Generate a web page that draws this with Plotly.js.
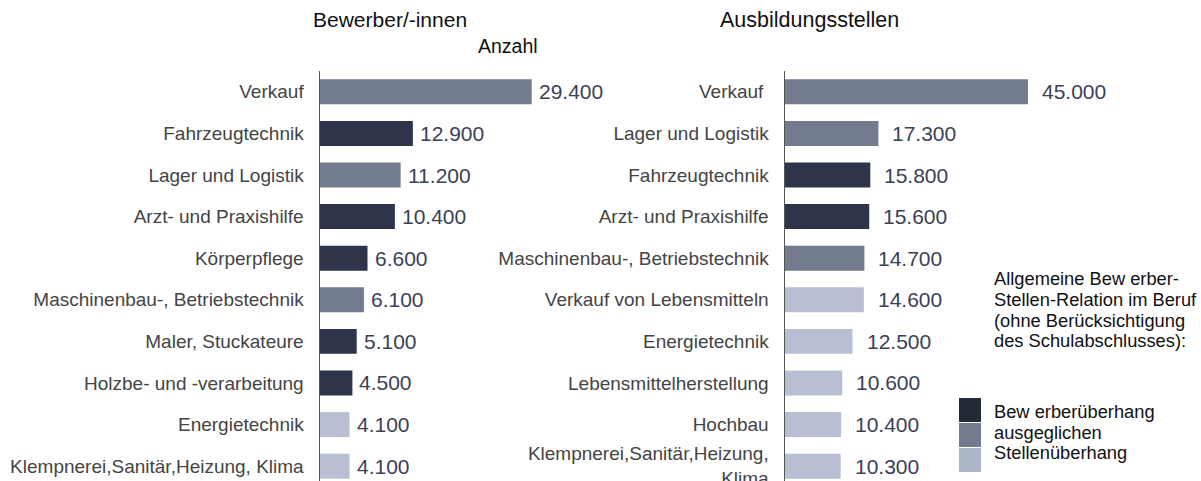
<!DOCTYPE html>
<html>
<head>
<meta charset="utf-8">
<script src="https://cdn.plot.ly/plotly-3.0.1.min.js"></script>
<style>html,body{margin:0;padding:0;background:#fff;}#chart{width:1201px;height:481px;}</style>
</head>
<body>
<div id="chart"></div>
<script>
// ---- data ----
const leftTitle = "Bewerber/-innen";
const rightTitle = "Ausbildungsstellen";
const unitLabel = "Anzahl";

const leftCategories = ["Verkauf", "Fahrzeugtechnik", "Lager und Logistik", "Arzt- und Praxishilfe",
  "Körperpflege", "Maschinenbau-, Betriebstechnik", "Maler, Stuckateure", "Holzbe- und -verarbeitung",
  "Energietechnik", "Klempnerei,Sanitär,Heizung, Klima"];
const leftValues = [29400, 12900, 11200, 10400, 6600, 6100, 5100, 4500, 4100, 4100];
const leftStatus = ["ausgeglichen", "bew", "ausgeglichen", "bew", "bew", "ausgeglichen", "bew", "bew", "stellen", "stellen"];

const rightCategories = ["Verkauf\u00a0", "Lager und Logistik", "Fahrzeugtechnik", "Arzt- und Praxishilfe",
  "Maschinenbau-, Betriebstechnik", "Verkauf von Lebensmitteln", "Energietechnik", "Lebensmittelherstellung",
  "Hochbau", "Klempnerei,Sanitär,Heizung,<br>Klima"];
const rightValues = [45000, 17300, 15800, 15600, 14700, 14600, 12500, 10600, 10400, 10300];
const rightStatus = ["ausgeglichen", "ausgeglichen", "bew", "bew", "ausgeglichen", "stellen", "stellen", "stellen", "stellen", "stellen"];

const legendHeading = ["Allgemeine Bew erber-", "Stellen-Relation im Beruf", "(ohne Berücksichtigung", "des Schulabschlusses):"];
const legendKeys = ["bew", "ausgeglichen", "stellen"];
const legendLabels = ["Bew erberüberhang", "ausgeglichen", "Stellenüberhang"];

// ---- styles ----
const barColors = {bew: "#2e354a", ausgeglichen: "#737b8e", stellen: "#b8bfd2"};
const swatchColors = {bew: "#222a37", ausgeglichen: "#737b8e", stellen: "#adb6c9"};
const FONT = "Liberation Sans, Arial, sans-serif";
const W = 1201, H = 481, MT = 71, MB = 0;
const plotH = H - MT - MB;
const px2x = x => x / W;
const px2y = y => (H - MB - y) / plotH;

function fmt(v) {
  return String(Math.round(v)).replace(/\B(?=(\d{3})+(?!\d))/g, ".");
}

const traces = [
  {type: "bar", orientation: "h", y: leftCategories, x: leftValues, xaxis: "x", yaxis: "y",
   marker: {color: leftStatus.map(s => barColors[s])}, hoverinfo: "skip"},
  {type: "bar", orientation: "h", y: rightCategories, x: rightValues, xaxis: "x2", yaxis: "y2",
   marker: {color: rightStatus.map(s => barColors[s])}, hoverinfo: "skip"}
];

const annotations = [];
leftCategories.forEach((c, i) => annotations.push({
  xref: "x", yref: "y", x: leftValues[i], y: c, text: fmt(leftValues[i]), showarrow: false,
  xanchor: "left", yanchor: "middle", xshift: 5, font: {family: FONT, size: 21, color: "#3a4156"}
}));
rightCategories.forEach((c, i) => annotations.push({
  xref: "x2", yref: "y2", x: rightValues[i], y: c, text: fmt(rightValues[i]), showarrow: false,
  xanchor: "left", yanchor: "middle", xshift: 12, font: {family: FONT, size: 21, color: "#3a4156"}
}));
annotations.push({xref: "paper", yref: "paper", x: px2x(390), y: px2y(20), text: leftTitle, showarrow: false,
  xanchor: "center", yanchor: "middle", font: {family: FONT, size: 21, color: "#111"}});
annotations.push({xref: "paper", yref: "paper", x: px2x(508), y: px2y(46), text: unitLabel, showarrow: false,
  xanchor: "center", yanchor: "middle", font: {family: FONT, size: 19.5, color: "#111"}});
annotations.push({xref: "paper", yref: "paper", x: px2x(809), y: px2y(20), text: rightTitle, showarrow: false,
  xanchor: "center", yanchor: "middle", font: {family: FONT, size: 21.5, color: "#111"}});
const headY = [278, 299, 320, 340];
legendHeading.forEach((t, i) => annotations.push({xref: "paper", yref: "paper", x: px2x(992), y: px2y(headY[i]),
  text: t, showarrow: false, xanchor: "left", yanchor: "middle", font: {family: FONT, size: 18.3, color: "#111"}}));
const itemY = [411, 432, 452];
const swTop = [398, 423, 448];
const shapes = [];
legendKeys.forEach((k, i) => {
  annotations.push({xref: "paper", yref: "paper", x: px2x(992), y: px2y(itemY[i]), text: legendLabels[i],
    showarrow: false, xanchor: "left", yanchor: "middle", font: {family: FONT, size: 18.3, color: "#111"}});
  shapes.push({type: "rect", xref: "paper", yref: "paper", x0: px2x(959), x1: px2x(981),
    y0: px2y(swTop[i]), y1: px2y(swTop[i] + 24), fillcolor: swatchColors[k], line: {width: 0}});
});

const yCommon = {type: "category", autorange: false, range: [9.356, -0.5], showgrid: false, zeroline: false,
  showline: true, linecolor: "#555", linewidth: 1.5, ticks: "outside", ticklen: 11, tickcolor: "rgba(0,0,0,0)",
  tickfont: {family: FONT, size: 19, color: "#444"}, fixedrange: true};
const xCommon = {visible: false, showgrid: false, zeroline: false, fixedrange: true};

const layout = {
  width: W, height: H, margin: {l: 0, r: 0, t: MT, b: MB, pad: 0},
  paper_bgcolor: "#fff", plot_bgcolor: "rgba(0,0,0,0)", showlegend: false, bargap: 0.4,
  xaxis: Object.assign({}, xCommon, {domain: [320 / W, 600 / W], range: [0, 280 / 7.2 * 1000], anchor: "y"}),
  yaxis: Object.assign({}, yCommon, {anchor: "x"}),
  xaxis2: Object.assign({}, xCommon, {domain: [785 / W, 1], range: [0, 416 / 5.4 * 1000], anchor: "y2"}),
  yaxis2: Object.assign({}, yCommon, {anchor: "x2"}),
  annotations: annotations, shapes: shapes
};

Plotly.newPlot("chart", traces, layout, {displayModeBar: false, staticPlot: true});
</script>
</body>
</html>
